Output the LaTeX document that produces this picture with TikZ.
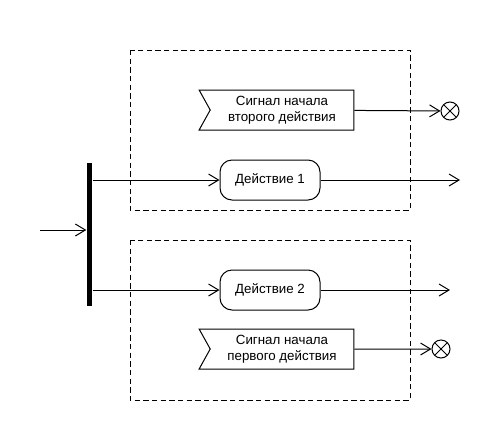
\documentclass[tikz,border=0pt]{standalone}
\usepackage{fontspec}
\setmainfont{Liberation Sans}
\usetikzlibrary{positioning,arrows.meta,shapes.symbols}

\tikzset{
  action/.style={draw, rounded corners=9pt, minimum width=75pt, minimum height=30pt, inner sep=0pt},
  sigbox/.style={draw, signal, signal from=west, signal to=nowhere, signal pointer angle=122,
    minimum width=116pt, minimum height=30pt, align=center, inner sep=1pt},
  flowend/.style={draw, circle, minimum size=13.5pt, inner sep=0pt,
    path picture={\draw (path picture bounding box.north west) -- (path picture bounding box.south east)
      (path picture bounding box.north east) -- (path picture bounding box.south west);}},
  region/.style={dash pattern=on 4pt off 2.5pt},
  flow/.style={-{Straight Barb[length=7.5pt,width=9pt]}}
}

\begin{document}
\begin{tikzpicture}[x=0.75pt, y=-0.75pt, line width=0.75pt, font=\fontsize{10pt}{12pt}\selectfont]
  \useasboundingbox (0,0) rectangle (500,440);
  % interruptible regions
  \draw[region] (130,50) rectangle (410,210);
  \draw[region] (130,240) rectangle (410,400);
  % fork bar
  \node[fill, inner sep=0pt, minimum width=4pt, minimum height=107pt] (fork) at (89.5,234.5) {};
  \coordinate (start) at (40,230);
  \draw[flow] (start) -- (start -| fork.west);
  % actions
  \node[action] (act1) at (270,180) {Действие 1};
  \node[action] (act2) at (270,290) {Действие 2};
  \draw[flow] (fork.east |- act1) -- (act1);
  \draw[flow] (fork.east |- act2) -- (act2);
  \coordinate (out1) at (460,180);
  \coordinate (out2) at (450,290);
  \draw[flow] (act1) -- (out1);
  \draw[flow] (act2) -- (out2);
  % send signals
  \node[sigbox] (sig1) at (282,110) {Сигнал начала\\второго действия};
  \node[sigbox] (sig2) at (282,349) {Сигнал начала\\первого действия};
  \node[flowend] (end1) at (450,111) {};
  \node[flowend] (end2) at (441,349) {};
  \draw[flow] (sig1) -- (end1);
  \draw[flow] (sig2) -- (end2);
\end{tikzpicture}
\end{document}
